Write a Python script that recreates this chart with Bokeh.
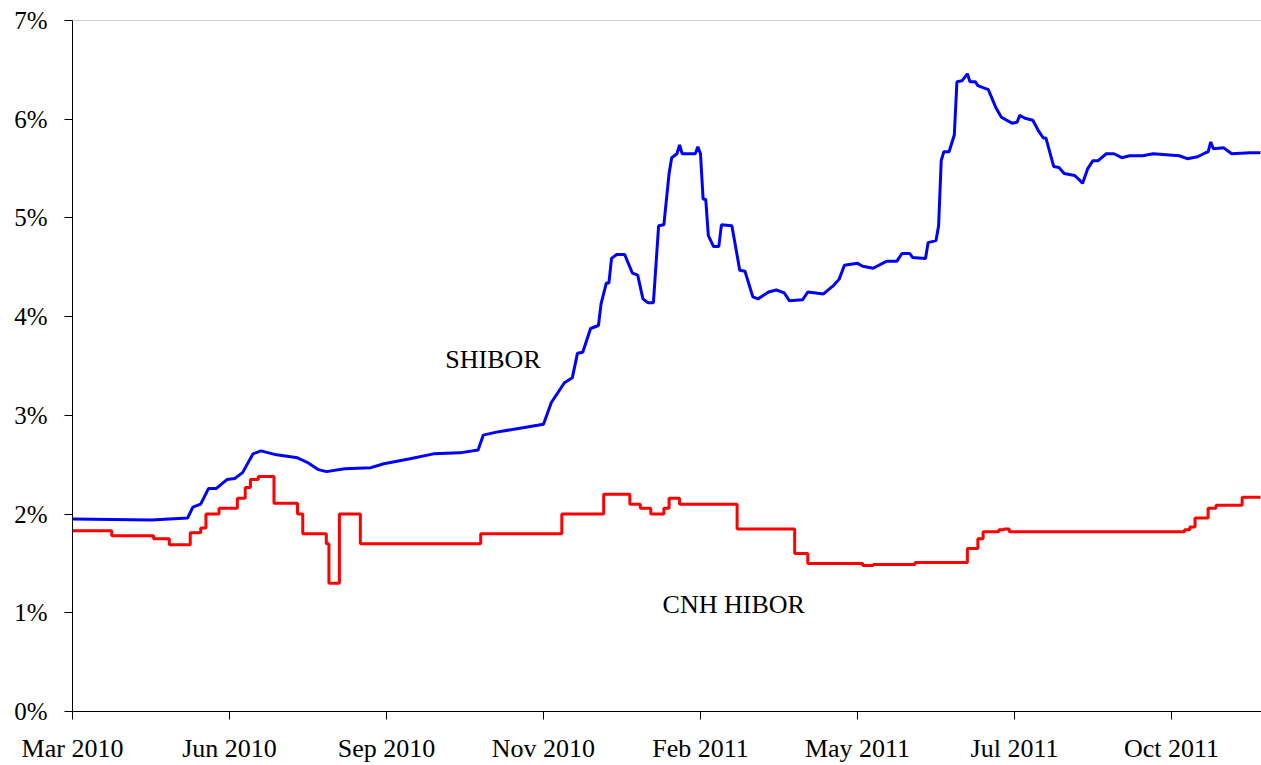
from bokeh.plotting import figure
from bokeh.models import Range1d, FixedTicker, Span, Label
from bokeh.embed import file_html
from bokeh.resources import INLINE

# x is a trading-day index (60 trading days between labelled ticks)
x_labels = ["Mar 2010", "Jun 2010", "Sep 2010", "Nov 2010",
            "Feb 2011", "May 2011", "Jul 2011", "Oct 2011"]
y_labels = ["0%", "1%", "2%", "3%", "4%", "5%", "6%", "7%"]

shibor_x = [0, 30, 44, 46, 49, 52, 55, 59, 62, 65, 69, 72, 78, 86, 90, 94, 97, 104,
            114, 119, 129, 138, 148, 155, 157, 162, 171, 180, 183, 188, 191, 193, 195,
            198, 201, 202, 204, 205, 206, 208, 211, 214, 216, 218, 220, 222, 224, 226,
            228, 229, 231, 232, 233, 238, 239, 240, 241, 242, 243, 245, 247, 248, 252,
            255, 257, 260, 262, 266, 269, 272, 274, 279, 281, 287, 291, 293, 295, 300,
            302, 306, 311, 315, 317, 320, 321, 326, 327, 330, 331, 332, 333, 335, 337,
            338, 340, 342, 343, 345, 346, 350, 353, 355, 359, 361, 362, 364, 367, 369,
            371, 372, 375, 377, 379, 383, 385, 386, 388, 390, 392, 395, 398, 401, 404,
            409, 413, 423, 426, 430, 433, 434, 435, 436, 440, 443, 450, 454]
shibor_y = [1.95, 1.94, 1.96, 2.07, 2.10, 2.26, 2.26, 2.35, 2.36, 2.42, 2.61, 2.64, 2.60,
            2.57, 2.52, 2.45, 2.43, 2.46, 2.47, 2.51, 2.56, 2.61, 2.62, 2.65, 2.80, 2.83,
            2.87, 2.91, 3.13, 3.33, 3.38, 3.63, 3.64, 3.88, 3.91, 4.13, 4.34, 4.34, 4.59,
            4.63, 4.63, 4.44, 4.42, 4.18, 4.14, 4.14, 4.92, 4.93, 5.45, 5.61, 5.65, 5.74,
            5.65, 5.65, 5.72, 5.65, 5.19, 5.19, 4.82, 4.71, 4.71, 4.93, 4.92, 4.47, 4.46,
            4.20, 4.18, 4.25, 4.27, 4.24, 4.16, 4.17, 4.25, 4.23, 4.32, 4.38, 4.52, 4.54,
            4.51, 4.49, 4.56, 4.56, 4.64, 4.64, 4.60, 4.59, 4.75, 4.77, 4.92, 5.58, 5.67,
            5.67, 5.84, 6.38, 6.39, 6.46, 6.38, 6.38, 6.34, 6.30, 6.11, 6.02, 5.96, 5.97,
            6.04, 6.01, 5.99, 5.89, 5.81, 5.81, 5.52, 5.51, 5.45, 5.43, 5.38, 5.35, 5.50,
            5.58, 5.58, 5.65, 5.65, 5.61, 5.63, 5.63, 5.65, 5.63, 5.60, 5.62, 5.66, 5.67,
            5.77, 5.70, 5.71, 5.65, 5.66, 5.66]

cnh_x = [0, 15, 31, 37, 45, 49, 51, 56, 63, 66, 68, 71, 77, 86, 88, 97, 98, 102, 110,
         156, 187, 203, 213, 217, 221, 226, 228, 232, 254, 276, 281, 302, 306, 322, 342,
         346, 348, 354, 356, 358, 425, 427, 429, 434, 437, 440, 447, 454]
cnh_y = [1.83, 1.78, 1.75, 1.69, 1.81, 1.86, 2.00, 2.06, 2.16, 2.27, 2.35, 2.38, 2.11,
         2.00, 1.80, 1.70, 1.30, 2.00, 1.70, 1.80, 2.00, 2.20, 2.10, 2.06, 2.00, 2.06,
         2.16, 2.10, 1.85, 1.60, 1.50, 1.48, 1.49, 1.51, 1.65, 1.75, 1.82, 1.84, 1.85,
         1.82, 1.84, 1.87, 1.96, 2.06, 2.09, 2.09, 2.17, 2.17]

FONT = "Liberation Serif"

p = figure(width=1261, height=765, output_backend="svg", toolbar_location=None,
           x_range=Range1d(0, 454.4), y_range=Range1d(0, 7),
           min_border_left=72, min_border_right=0, min_border_top=20,
           min_border_bottom=0)
p.outline_line_color = None
p.xgrid.visible = False
p.ygrid.visible = False
p.background_fill_color = "white"

x_ticks = [i * 60 for i in range(len(x_labels))]
y_ticks = list(range(len(y_labels)))

p.xaxis.ticker = FixedTicker(ticks=x_ticks)
p.xaxis.major_label_overrides = {t: l for t, l in zip(x_ticks, x_labels)}
p.yaxis.ticker = FixedTicker(ticks=y_ticks)
p.yaxis.major_label_overrides = {t: l for t, l in zip(y_ticks, y_labels)}

for ax in (p.xaxis, p.yaxis):
    ax.axis_line_color = "black"
    ax.axis_line_width = 1
    ax.major_tick_line_color = "black"
    ax.major_tick_in = 0
    ax.major_tick_out = 8
    ax.minor_tick_line_color = None
    ax.major_label_text_font = FONT
    ax.major_label_text_color = "black"

p.xaxis.major_label_text_font_size = "26px"
p.xaxis.major_label_standoff = 14
p.yaxis.major_label_text_font_size = "25px"
p.yaxis.major_label_standoff = 17

p.add_layout(Span(location=7, dimension="width", line_color="#a0a0a0", line_width=1))

p.line(shibor_x, shibor_y, line_color="#0000FF", line_width=3)
p.step(cnh_x, cnh_y, mode="after", line_color="#FF0000", line_width=3)

p.add_layout(Label(x=142.5, y=3.42, text="SHIBOR", text_font=FONT,
                   text_font_size="26px", text_color="black"))
p.add_layout(Label(x=225.5, y=0.94, text="CNH HIBOR", text_font=FONT,
                   text_font_size="26px", text_color="black"))

open("out.html", "w").write(file_html(p, INLINE))
